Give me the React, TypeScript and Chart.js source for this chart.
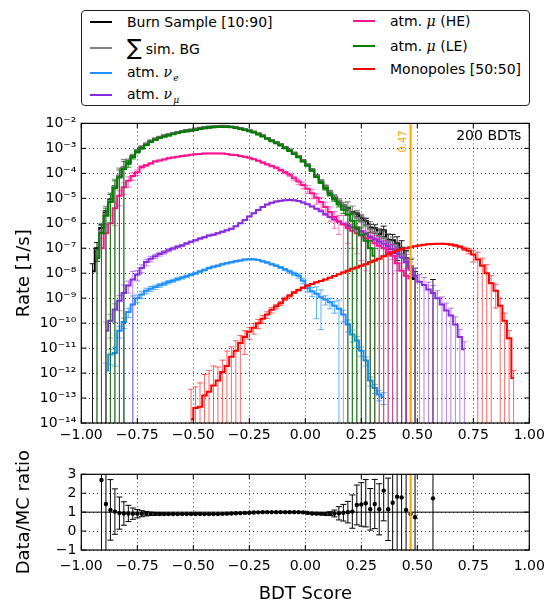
import React, { useEffect, useRef } from "react";
import { Chart, registerables } from "chart.js";

Chart.register(...registerables);

const FONT = '"DejaVu Sans", sans-serif';
Chart.defaults.font.family = FONT;
Chart.defaults.color = "#000";

// ---------------- axes / annotations ----------------
const X_MIN = -1;
const X_MAX = 1;
const BIN_WIDTH = 0.02;
const xTicks = [-1, -0.75, -0.5, -0.25, 0, 0.25, 0.5, 0.75, 1];
const rateTickExponents = [-14, -13, -12, -11, -10, -9, -8, -7, -6, -5, -4, -3, -2];
const RATE_MIN = 1e-14;
const RATE_MAX = 1e-2;
const ratioTicks = [-1, 0, 1, 2, 3];
const RATIO_MIN = -1;
const RATIO_MAX = 3;
const cutValue = 0.47;
const cutLabel = "0.47";
const bdtLabel = "200 BDTs";

// ---------------- data (rates in 1/s, bin centers start at *FirstBin, step 0.02) ----------------
const burnFirstBin = -0.95;
const burnRate = [
  1.2e-8, 1.0e-7, 6.5e-7, 2.7e-6, 8.5e-6, 2.9e-5, 7.7e-5, 1.65e-4, 2.75e-4, 4.8e-4,
  7.6e-4, 1.08e-3, 1.43e-3, 1.87e-3, 2.28e-3, 2.65e-3, 3.03e-3, 3.33e-3, 3.72e-3, 4.1e-3,
  4.5e-3, 4.88e-3, 5.18e-3, 5.57e-3, 6.03e-3, 6.4e-3, 6.78e-3, 6.96e-3, 7.2e-3, 7.38e-3,
  7.34e-3, 7.1e-3, 6.8e-3, 6.3e-3, 5.7e-3, 5.25e-3, 4.65e-3, 3.9e-3, 3.27e-3, 2.63e-3,
  2.15e-3, 1.77e-3, 1.44e-3, 1.11e-3, 8.8e-4, 6.6e-4, 4.9e-4, 3.3e-4, 2.2e-4, 1.4e-4,
  7.9e-5, 4.7e-5, 2.8e-5, 1.7e-5, 1.1e-5, 7.6e-6, 5.2e-6, 3.8e-6, 2.6e-6, 2.3e-6,
  1.6e-6, 1.2e-6, 6.7e-7, 6.3e-7, 3.6e-7, 5.3e-7, 2.2e-7, 2.1e-7, 1.6e-7, 1.0e-7,
  4.0e-8, 1.8e-8, 5.8e-9, null, null, null, 2.8e-9,
];
const burnRelErr = [
  1.0, 0.7, 0.35, 0.2, 0.12, 0.07, 0.05, 0.04, 0.03, 0.025,
  0.02, 0.015, 0.012, 0.01, 0.01, 0.01, 0.01, 0.01, 0.01, 0.01,
  0.01, 0.01, 0.01, 0.01, 0.01, 0.01, 0.01, 0.01, 0.01, 0.01,
  0.01, 0.01, 0.01, 0.01, 0.01, 0.01, 0.01, 0.01, 0.01, 0.01,
  0.01, 0.01, 0.01, 0.01, 0.01, 0.01, 0.01, 0.012, 0.015, 0.02,
  0.025, 0.03, 0.04, 0.05, 0.06, 0.08, 0.1, 0.12, 0.15, 0.2,
  0.22, 0.28, 0.35, 0.4, 0.5, 0.45, 0.6, 0.7, 0.8, 1.0,
  1.0, 1.0, 1.0, null, null, null, 1.0,
];

const simBgFirstBin = -0.93;
const simBgRate = [
  4.5e-8, 5.0e-7, 2.4e-6, 8.1e-6, 2.9e-5, 8.1e-5, 1.8e-4, 3.0e-4, 5.2e-4, 8.3e-4,
  1.18e-3, 1.56e-3, 2.05e-3, 2.5e-3, 2.93e-3, 3.36e-3, 3.7e-3, 4.13e-3, 4.56e-3, 5.0e-3,
  5.42e-3, 5.75e-3, 6.2e-3, 6.7e-3, 7.12e-3, 7.53e-3, 7.73e-3, 7.93e-3, 8.02e-3, 7.89e-3,
  7.56e-3, 7.14e-3, 6.6e-3, 5.86e-3, 5.32e-3, 4.67e-3, 3.92e-3, 3.27e-3, 2.63e-3, 2.15e-3,
  1.77e-3, 1.44e-3, 1.11e-3, 8.8e-4, 6.6e-4, 4.9e-4, 3.3e-4, 2.3e-4, 1.47e-4, 8.5e-5,
  5.2e-5, 3.1e-5, 1.86e-5, 1.21e-5, 7.95e-6, 5.3e-6, 3.6e-6, 2.45e-6, 1.65e-6, 1.15e-6,
  8.2e-7, 5.8e-7, 4.4e-7, 3.1e-7, 2.5e-7, 1.9e-7, 1.4e-7, 8.8e-8, 5.6e-8, 3.6e-8,
  2.0e-8, 7.9e-9,
];
const simBgRelErr = [
  1.0, 1.0, 1.0, 1.0, 1.0, 1.0, 1.0, 0.25, 0.12, 0.08,
  0.06, 0.04, 0.03, 0.025, 0.02, 0.02, 0.015, 0.015, 0.015, 0.015,
  0.015, 0.015, 0.015, 0.015, 0.015, 0.015, 0.015, 0.015, 0.015, 0.015,
  0.015, 0.015, 0.015, 0.015, 0.015, 0.015, 0.015, 0.015, 0.015, 0.015,
  0.015, 0.015, 0.02, 0.02, 0.02, 0.025, 0.03, 0.035, 0.04, 0.05,
  0.07, 0.1, 0.12, 0.15, 0.2, 0.3, 1.0, 1.0, 1.0, 1.0,
  1.0, 1.0, 1.0, 1.0, 1.0, 1.0, 1.0, 1.0, 1.0, 1.0,
  1.0, 1.0,
];

const nueFirstBin = -0.89;
const nueRate = [
  1.26e-12, 5.6e-12, 6.3e-12, 5.0e-11, 1.1e-10, 2.8e-10, 5.6e-10, 1.0e-9, 1.4e-9, 2.0e-9,
  2.4e-9, 2.8e-9, 3.3e-9, 3.8e-9, 4.4e-9, 5.0e-9, 5.8e-9, 6.6e-9, 7.6e-9, 8.7e-9,
  1.0e-8, 1.17e-8, 1.35e-8, 1.6e-8, 1.8e-8, 2.0e-8, 2.3e-8, 2.5e-8, 2.75e-8, 3.0e-8,
  3.2e-8, 3.5e-8, 3.6e-8, 3.6e-8, 3.4e-8, 3.0e-8, 2.7e-8, 2.3e-8, 2.0e-8, 1.7e-8,
  1.4e-8, 1.17e-8, 9.5e-9, 7.9e-9, 5.0e-9, 2.5e-9, 1.9e-9, 1.5e-9, 1.1e-9, 8.9e-10,
  6.8e-10, 5.0e-10, 3.8e-10, 2.2e-10, 8.9e-11, 3.5e-11, 2.0e-11, 7.9e-12, 3.2e-12, 5.0e-13,
  2.5e-13, 1.4e-13, 1.1e-13,
];
const nueRelErr = [
  1.0, 0.6, 0.7, 0.5, 0.45, 0.4, 1.2, 0.35, 0.3, 0.25,
  0.22, 0.2, 0.18, 0.16, 0.15, 0.14, 0.13, 0.12, 0.11, 0.1,
  0.1, 0.09, 0.09, 0.08, 0.08, 0.07, 0.07, 0.06, 0.06, 0.06,
  0.05, 0.05, 0.05, 0.05, 0.05, 0.06, 0.06, 0.07, 0.08, 0.09,
  0.1, 0.12, 0.15, 0.2, 0.25, 0.3, 0.4, 0.9, 0.95, 0.4,
  0.45, 0.5, 1.2, 0.5, 0.5, 0.5, 0.45, 0.4, 0.4, 0.4,
  0.4, 0.45, 0.5,
];

const numuFirstBin = -0.89;
const numuRate = [
  5.0e-11, 1.26e-10, 3.5e-10, 7.9e-10, 1.6e-9, 3.2e-9, 5.6e-9, 8.9e-9, 1.6e-8, 2.8e-8,
  3.8e-8, 4.8e-8, 5.9e-8, 6.9e-8, 8.3e-8, 9.8e-8, 1.15e-7, 1.3e-7, 1.55e-7, 1.8e-7,
  2.1e-7, 2.45e-7, 2.75e-7, 3.2e-7, 3.5e-7, 4.0e-7, 4.6e-7, 5.2e-7, 6.0e-7, 7.6e-7,
  1.0e-6, 1.35e-6, 1.86e-6, 2.5e-6, 3.4e-6, 4.5e-6, 5.6e-6, 6.6e-6, 7.4e-6, 7.9e-6,
  8.3e-6, 8.5e-6, 8.3e-6, 7.8e-6, 6.8e-6, 5.8e-6, 4.7e-6, 3.8e-6, 3.0e-6, 2.3e-6,
  1.8e-6, 1.4e-6, 1.15e-6, 9.5e-7, 8.1e-7, 6.9e-7, 5.9e-7, 4.8e-7, 3.7e-7, 2.8e-7,
  2.3e-7, 1.86e-7, 1.5e-7, 1.2e-7, 8.9e-8, 6.3e-8, 4.3e-8, 2.8e-8, 1.4e-8, 7.9e-9,
  4.5e-9, 3.4e-9, 2.2e-9, 1.6e-9, 1.0e-9, 5.6e-10, 3.2e-10, 2.0e-10, 8.9e-11, 2.8e-11,
  8.9e-12,
];
const numuRelErr = [
  1.2, 0.8, 0.7, 0.6, 1.1, 0.5, 1.1, 0.45, 0.35, 0.3,
  0.25, 0.2, 0.18, 0.16, 0.14, 0.12, 0.1, 0.09, 0.08, 0.07,
  0.06, 0.06, 0.05, 0.05, 0.05, 0.04, 0.04, 0.04, 0.04, 0.03,
  0.03, 0.03, 0.03, 0.03, 0.03, 0.03, 0.03, 0.03, 0.03, 0.03,
  0.03, 0.03, 0.03, 0.03, 0.03, 0.03, 0.03, 0.03, 0.03, 0.03,
  0.03, 0.03, 0.04, 0.04, 0.05, 0.06, 0.07, 0.08, 0.1, 0.12,
  0.15, 0.2, 0.3, 0.4, 0.6, 0.8, 1.0, 1.0, 1.0, 1.0,
  1.0, 1.0, 1.0, 1.0, 1.0, 1.0, 1.0, 1.0, 1.0, 1.0,
  1.0,
];

const muHeFirstBin = -0.91;
const muHeRate = [
  1.0e-7, 4.0e-7, 1.0e-6, 4.0e-6, 1.26e-5, 2.8e-5, 5.0e-5, 7.9e-5, 1.1e-4, 1.8e-4,
  2.1e-4, 2.5e-4, 3.0e-4, 3.3e-4, 3.6e-4, 4.0e-4, 4.3e-4, 4.6e-4, 5.0e-4, 5.2e-4,
  5.5e-4, 5.8e-4, 6.0e-4, 6.2e-4, 6.3e-4, 6.3e-4, 6.3e-4, 6.2e-4, 5.9e-4, 5.6e-4,
  5.4e-4, 5.0e-4, 4.6e-4, 4.2e-4, 3.7e-4, 3.2e-4, 2.7e-4, 2.3e-4, 1.95e-4, 1.66e-4,
  1.35e-4, 1.1e-4, 8.7e-5, 6.3e-5, 4.7e-5, 3.4e-5, 2.4e-5, 1.6e-5, 1.05e-5, 7.1e-6,
  4.5e-6, 2.8e-6, 1.8e-6, 1.2e-6, 8.9e-7, 6.3e-7, 5.0e-7, 4.0e-7, 3.2e-7, 2.5e-7,
  2.0e-7, 1.6e-7, 1.26e-7, 1.0e-7, 7.1e-8, 5.0e-8, 2.5e-8, 1.26e-8, 7.9e-9, 6.3e-9,
];
const muHeRelErr = [
  1.5, 1.2, 1.0, 0.8, 0.6, 0.5, 0.45, 0.35, 0.25, 0.15,
  0.1, 0.07, 0.05, 0.04, 0.03, 0.03, 0.03, 0.03, 0.03, 0.03,
  0.03, 0.03, 0.03, 0.03, 0.03, 0.03, 0.03, 0.03, 0.03, 0.03,
  0.03, 0.03, 0.03, 0.03, 0.035, 0.04, 0.05, 0.06, 0.07, 0.08,
  0.1, 0.12, 0.15, 0.2, 0.25, 0.3, 0.35, 0.4, 0.45, 0.5,
  0.55, 0.6, 0.65, 0.7, 1.3, 0.75, 0.8, 0.85, 0.9, 0.95,
  1.0, 1.0, 1.0, 1.0, 1.0, 1.0, 1.0, 1.0, 1.0, 1.0,
];

const muLeFirstBin = -0.93;
const muLeRate = [
  4.0e-8, 4.0e-7, 2.0e-6, 7.1e-6, 2.5e-5, 6.8e-5, 1.5e-4, 2.5e-4, 4.4e-4, 7.2e-4,
  1.0e-3, 1.35e-3, 1.8e-3, 2.2e-3, 2.6e-3, 3.0e-3, 3.3e-3, 3.7e-3, 4.1e-3, 4.5e-3,
  4.9e-3, 5.2e-3, 5.6e-3, 6.1e-3, 6.5e-3, 6.9e-3, 7.1e-3, 7.3e-3, 7.4e-3, 7.3e-3,
  7.0e-3, 6.6e-3, 6.1e-3, 5.4e-3, 4.9e-3, 4.3e-3, 3.6e-3, 3.0e-3, 2.4e-3, 1.95e-3,
  1.6e-3, 1.3e-3, 1.0e-3, 7.9e-4, 6.0e-4, 4.4e-4, 3.0e-4, 2.0e-4, 1.26e-4, 7.1e-5,
  4.2e-5, 2.4e-5, 1.4e-5, 8.9e-6, 5.6e-6, 3.5e-6, 2.2e-6, 1.26e-6, 6.6e-7, 3.5e-7,
  2.0e-7, 1.0e-7, 5.0e-8,
];
const muLeRelErr = [
  1.2, 1.0, 1.0, 1.0, 1.0, 1.0, 1.0, 0.3, 0.15, 0.1,
  0.07, 0.05, 0.04, 0.03, 0.025, 0.02, 0.02, 0.015, 0.015, 0.015,
  0.015, 0.015, 0.015, 0.015, 0.015, 0.015, 0.015, 0.015, 0.015, 0.015,
  0.015, 0.015, 0.015, 0.015, 0.015, 0.015, 0.015, 0.015, 0.015, 0.015,
  0.015, 0.015, 0.02, 0.02, 0.02, 0.025, 0.03, 0.035, 0.04, 0.05,
  0.07, 0.1, 0.12, 0.15, 0.2, 0.3, 1.0, 1.0, 1.0, 1.0,
  1.0, 1.0, 1.0,
];

const monopoleFirstBin = -0.51;
const monopoleRate = [
  1.4e-14, 4.0e-14, 4.5e-14, 1.26e-13, 1.8e-13, 3.2e-13, 5.0e-13, 1.1e-12, 1.9e-12, 4.5e-12,
  7.9e-12, 1.6e-11, 2.8e-11, 4.5e-11, 6.6e-11, 1.0e-10, 1.5e-10, 2.2e-10, 3.4e-10, 4.7e-10,
  6.3e-10, 9.5e-10, 1.26e-9, 1.7e-9, 2.1e-9, 2.6e-9, 3.2e-9, 3.7e-9, 4.3e-9, 4.9e-9,
  5.6e-9, 6.6e-9, 7.8e-9, 9.1e-9, 1.07e-8, 1.26e-8, 1.5e-8, 1.7e-8, 2.0e-8, 2.3e-8,
  2.75e-8, 3.2e-8, 3.8e-8, 4.8e-8, 5.8e-8, 6.8e-8, 7.9e-8, 9.1e-8, 1.0e-7, 1.1e-7,
  1.2e-7, 1.3e-7, 1.38e-7, 1.45e-7, 1.48e-7, 1.5e-7, 1.5e-7, 1.48e-7, 1.4e-7, 1.3e-7,
  1.15e-7, 9.5e-8, 7.9e-8, 5.6e-8, 3.5e-8, 2.0e-8, 1.0e-8, 4.0e-9, 2.0e-9, 5.0e-10,
  1.26e-10, 2.5e-11, 6.3e-13,
];
const monopoleRelErr = [
  15, 6, 8, 6, 6, 5, 2.5, 2, 3, 1.5,
  1.5, 1.0, 0.8, 0.5, 0.45, 0.4, 0.35, 0.3, 0.25, 0.2,
  0.18, 0.15, 0.12, 0.1, 0.09, 0.08, 0.07, 0.06, 0.05, 0.05,
  0.04, 0.04, 0.04, 0.03, 0.03, 0.03, 0.03, 0.03, 0.03, 0.03,
  0.03, 0.03, 0.03, 0.03, 0.03, 0.03, 0.03, 0.03, 0.03, 0.03,
  0.03, 0.03, 0.03, 0.03, 0.03, 0.03, 0.04, 0.05, 0.07, 0.08,
  0.1, 0.15, 0.25, 0.5, 1.0, 1.0, 1.2, 1.0, 0.8, 1.0,
  1.0, 1.0, 1.0,
];

const ratioFirstBin = -0.91;
const ratioValue = [
  2.7, 1.43, 1.12, 1.03, 0.95, 0.93, 0.93, 0.92, 0.92, 0.92,
  0.92, 0.91, 0.91, 0.9, 0.9, 0.9, 0.9, 0.9, 0.9, 0.9,
  0.9, 0.9, 0.9, 0.9, 0.9, 0.9, 0.9, 0.91, 0.92, 0.93,
  0.94, 0.95, 0.96, 0.97, 0.98, 0.99, 1.0, 1.0, 1.0, 1.0,
  1.0, 1.0, 1.0, 1.0, 1.0, 0.99, 0.96, 0.93, 0.92, 0.91,
  0.9, 0.92, 0.93, 0.94, 0.97, 1.0, 1.03, 1.38, 1.41, 1.47,
  1.15, 1.43, 1.15, 2.14, 1.15, 1.5, 1.82, 1.78, 1.12, 0.9,
  0.73, null, null, null, 1.73,
];
const ratioErr = [
  4.0, 3.0, 1.6, 1.2, 0.85, 0.62, 0.43, 0.3, 0.22, 0.16,
  0.12, 0.09, 0.07, 0.05, 0.04, 0.03, 0.025, 0.02, 0.02, 0.02,
  0.015, 0.015, 0.015, 0.015, 0.015, 0.015, 0.015, 0.015, 0.015, 0.015,
  0.015, 0.015, 0.015, 0.015, 0.015, 0.015, 0.015, 0.015, 0.015, 0.015,
  0.015, 0.015, 0.015, 0.015, 0.015, 0.02, 0.02, 0.025, 0.03, 0.04,
  0.06, 0.1, 0.18, 0.35, 0.44, 0.57, 0.88, 1.05, 1.15, 1.25,
  1.1, 1.3, 1.35, 1.6, 1.65, 2.5, 3.0, 3.0, 3.0, 3.0,
  3.0, null, null, null, 5.0,
];

// ---------------- colours ----------------
const COLORS = {
  burn: "#000000",
  simBg: "#808080",
  nue: "#1e90ff",
  numu: "#8a2be2",
  muHe: "#ff1493",
  muLe: "#008000",
  monopole: "#ff0000",
  cut: "#ffa500",
};

// ---------------- helpers ----------------
const toPoints = (first: number, values: (number | null)[]) =>
  values.map((v, i) => ({ x: Math.round((first + i * BIN_WIDTH) * 1000) / 1000, y: v }));

const SUP: Record<string, string> = {
  "-": "\u207B", "0": "\u2070", "1": "\u00B9", "2": "\u00B2", "3": "\u00B3",
  "4": "\u2074", "5": "\u2075", "6": "\u2076", "7": "\u2077", "8": "\u2078", "9": "\u2079",
};
const sup = (n: number) => String(n).split("").map((c) => SUP[c] ?? c).join("");
const fmtSigned = (v: number, digits: number) =>
  (v < 0 ? "\u2212" : "") + Math.abs(v).toFixed(digits);

const errorBarPlugin = {
  id: "errorBars",
  afterDatasetDraw(chart: any, args: any) {
    const ds = chart.data.datasets[args.index];
    const errs = ds.errors;
    if (!errs) return;
    const xs = chart.scales.x;
    const ys = chart.scales.y;
    const a = chart.chartArea;
    const ctx = chart.ctx;
    const cap = ds.capHalf ?? 3;
    ctx.save();
    ctx.beginPath();
    ctx.rect(a.left, a.top, a.right - a.left, a.bottom - a.top);
    ctx.clip();
    ctx.strokeStyle = ds.errorColor;
    ctx.lineWidth = ds.errorWidth ?? 1;
    ds.data.forEach((p: any, i: number) => {
      const e = errs[i];
      if (p.y == null || e == null) return;
      let hi: number;
      let lo: number;
      if (ds.relativeErrors) {
        hi = p.y * (1 + e);
        lo = p.y * (1 - e);
      } else {
        hi = p.y + e;
        lo = p.y - e;
      }
      const loValid = ds.relativeErrors ? lo > 0 : true;
      const px = xs.getPixelForValue(p.x);
      const pyHi = ys.getPixelForValue(hi);
      const pyLo = loValid ? ys.getPixelForValue(lo) : a.bottom + 2;
      ctx.beginPath();
      ctx.moveTo(px, pyLo);
      ctx.lineTo(px, pyHi);
      ctx.moveTo(px - cap, pyHi);
      ctx.lineTo(px + cap, pyHi);
      if (loValid) {
        ctx.moveTo(px - cap, pyLo);
        ctx.lineTo(px + cap, pyLo);
      }
      ctx.stroke();
    });
    ctx.restore();
  },
};

const framePlugin = {
  id: "frame",
  afterDraw(chart: any) {
    const a = chart.chartArea;
    const ctx = chart.ctx;
    const xs = chart.scales.x;
    const ys = chart.scales.y;
    ctx.save();
    ctx.strokeStyle = "#000";
    ctx.lineWidth = 1;
    ctx.beginPath();
    xs.ticks.forEach((t: any) => {
      const px = xs.getPixelForValue(t.value);
      ctx.moveTo(px, a.bottom);
      ctx.lineTo(px, a.bottom - 5);
      ctx.moveTo(px, a.top);
      ctx.lineTo(px, a.top + 5);
    });
    ys.ticks.forEach((t: any) => {
      const py = ys.getPixelForValue(t.value);
      ctx.moveTo(a.left, py);
      ctx.lineTo(a.left + 5, py);
      ctx.moveTo(a.right, py);
      ctx.lineTo(a.right - 5, py);
    });
    ctx.stroke();
    ctx.lineWidth = 1.2;
    ctx.strokeRect(a.left, a.top, a.right - a.left, a.bottom - a.top);
    ctx.restore();
  },
};

const cutLinePlugin = {
  id: "cutLine",
  afterDatasetsDraw(chart: any) {
    const a = chart.chartArea;
    const ctx = chart.ctx;
    const px = chart.scales.x.getPixelForValue(cutValue);
    ctx.save();
    ctx.strokeStyle = COLORS.cut;
    ctx.lineWidth = 2;
    ctx.beginPath();
    ctx.moveTo(px, a.top);
    ctx.lineTo(px, a.bottom);
    ctx.stroke();
    ctx.restore();
  },
};

const mainTextPlugin = {
  id: "mainText",
  afterDatasetsDraw(chart: any) {
    const a = chart.chartArea;
    const ctx = chart.ctx;
    const px = chart.scales.x.getPixelForValue(cutValue);
    ctx.save();
    ctx.fillStyle = "#000";
    ctx.font = `14px ${FONT}`;
    ctx.textAlign = "right";
    ctx.textBaseline = "middle";
    ctx.fillText(bdtLabel, a.right - 8, a.top + 13);
    ctx.translate(px - 7, a.top + 18);
    ctx.rotate(-Math.PI / 2);
    ctx.fillStyle = COLORS.cut;
    ctx.font = `10px ${FONT}`;
    ctx.textAlign = "center";
    ctx.textBaseline = "middle";
    ctx.fillText(cutLabel, 0, 0);
    ctx.restore();
  },
};

const unityLinePlugin = {
  id: "unityLine",
  beforeDatasetsDraw(chart: any) {
    const a = chart.chartArea;
    const ctx = chart.ctx;
    const py = chart.scales.y.getPixelForValue(1);
    ctx.save();
    ctx.strokeStyle = "#000";
    ctx.lineWidth = 1;
    ctx.beginPath();
    ctx.moveTo(a.left, py);
    ctx.lineTo(a.right, py);
    ctx.stroke();
    ctx.restore();
  },
};

const gridCfg = { color: "rgba(0,0,0,0.8)", lineWidth: 1, drawTicks: false };
const borderCfg = { display: false, dash: [1, 3] };

function stepDataset(label: string, color: string, errColor: string, first: number, values: (number | null)[], errs: (number | null)[]) {
  return {
    label,
    data: toPoints(first, values),
    errors: errs,
    relativeErrors: true,
    errorColor: errColor,
    borderColor: color,
    borderWidth: 2,
    pointRadius: 0,
    stepped: "middle",
    spanGaps: false,
    fill: false,
  } as any;
}

function mainConfig(): any {
  return {
    type: "line",
    data: {
      datasets: [
        stepDataset("Monopoles [50:50]", COLORS.monopole, "rgba(255,0,0,0.6)", monopoleFirstBin, monopoleRate, monopoleRelErr),
        stepDataset("atm. mu (LE)", COLORS.muLe, "rgba(0,128,0,0.85)", muLeFirstBin, muLeRate, muLeRelErr),
        stepDataset("atm. mu (HE)", COLORS.muHe, "rgba(255,20,147,0.55)", muHeFirstBin, muHeRate, muHeRelErr),
        stepDataset("atm. nu_mu", COLORS.numu, "rgba(138,43,226,0.6)", numuFirstBin, numuRate, numuRelErr),
        stepDataset("atm. nu_e", COLORS.nue, "rgba(30,144,255,0.7)", nueFirstBin, nueRate, nueRelErr),
        stepDataset("sum sim. BG", COLORS.simBg, "rgba(100,100,100,0.85)", simBgFirstBin, simBgRate, simBgRelErr),
        stepDataset("Burn Sample [10:90]", COLORS.burn, "rgba(0,0,0,0.9)", burnFirstBin, burnRate, burnRelErr),
      ],
    },
    options: {
      responsive: false,
      animation: false,
      events: [],
      layout: { padding: { top: 9, right: 24.7, bottom: 0, left: 0 } },
      plugins: { legend: { display: false }, tooltip: { enabled: false } },
      scales: {
        x: {
          type: "linear",
          min: X_MIN,
          max: X_MAX,
          afterBuildTicks: (s: any) => { s.ticks = xTicks.map((v) => ({ value: v })); },
          afterFit: (s: any) => { s.height = 22; },
          ticks: { callback: (v: any) => fmtSigned(Number(v), 2), font: { size: 14, family: FONT }, color: "#000", padding: 4, maxRotation: 0, autoSkip: false },
          grid: gridCfg,
          border: borderCfg,
        },
        y: {
          type: "logarithmic",
          min: RATE_MIN,
          max: RATE_MAX,
          afterBuildTicks: (s: any) => { s.ticks = rateTickExponents.map((e) => ({ value: Math.pow(10, e) })); },
          afterFit: (s: any) => { s.width = 81.3; },
          ticks: { callback: (v: any) => "10" + sup(Math.round(Math.log10(Number(v)))), font: { size: 14, family: FONT }, color: "#000", padding: 5, autoSkip: false },
          title: { display: true, text: "Rate [1/s]", font: { size: 18, family: FONT }, color: "#000", padding: { top: 14, bottom: 0 } },
          grid: gridCfg,
          border: borderCfg,
        },
      },
    },
    plugins: [errorBarPlugin, cutLinePlugin, mainTextPlugin, framePlugin],
  };
}

function ratioConfig(): any {
  return {
    type: "scatter",
    data: {
      datasets: [
        {
          label: "Data/MC ratio",
          data: toPoints(ratioFirstBin, ratioValue),
          errors: ratioErr,
          relativeErrors: false,
          errorColor: "#000",
          capHalf: 3,
          pointRadius: 2.2,
          pointBackgroundColor: "#000",
          pointBorderWidth: 0,
          showLine: false,
        },
      ],
    },
    options: {
      responsive: false,
      animation: false,
      events: [],
      layout: { padding: { top: 29.3, right: 24.7, bottom: 0, left: 0 } },
      plugins: { legend: { display: false }, tooltip: { enabled: false } },
      scales: {
        x: {
          type: "linear",
          min: X_MIN,
          max: X_MAX,
          afterBuildTicks: (s: any) => { s.ticks = xTicks.map((v) => ({ value: v })); },
          afterFit: (s: any) => { s.height = 55; },
          ticks: { callback: (v: any) => fmtSigned(Number(v), 2), font: { size: 14, family: FONT }, color: "#000", padding: 8, maxRotation: 0, autoSkip: false },
          title: { display: true, text: "BDT Score", font: { size: 18, family: FONT }, color: "#000", padding: { top: 0, bottom: 0 } },
          grid: gridCfg,
          border: borderCfg,
        },
        y: {
          type: "linear",
          min: RATIO_MIN,
          max: RATIO_MAX,
          afterBuildTicks: (s: any) => { s.ticks = ratioTicks.map((v) => ({ value: v })); },
          afterFit: (s: any) => { s.width = 81.3; },
          ticks: { callback: (v: any) => fmtSigned(Number(v), 0), font: { size: 14, family: FONT }, color: "#000", padding: 5, autoSkip: false },
          title: { display: true, text: "Data/MC ratio", font: { size: 18, family: FONT }, color: "#000", padding: { top: 14, bottom: 0 } },
          grid: gridCfg,
          border: borderCfg,
        },
      },
    },
    plugins: [unityLinePlugin, errorBarPlugin, cutLinePlugin, framePlugin],
  };
}

// ---------------- legend ----------------
const mathStyle: React.CSSProperties = { fontFamily: '"DejaVu Serif", serif', fontStyle: "italic" };
const subStyle: React.CSSProperties = { fontFamily: '"DejaVu Serif", serif', fontStyle: "italic", fontSize: 9, position: "relative", top: 4, marginLeft: 1 };

const legendItems = [
  { color: COLORS.burn, left: 90, top: 22, label: <span>Burn Sample [10:90]</span> },
  {
    color: COLORS.simBg, left: 90, top: 47.5,
    label: (
      <span>
        <span style={{ fontSize: 22, position: "relative", top: 1, marginRight: 4 }}>{"\u2211"}</span>sim. BG
      </span>
    ),
  },
  { color: COLORS.nue, left: 90, top: 72.5, label: <span>atm. <span style={mathStyle}>{"\u03BD"}</span><span style={subStyle}>e</span></span> },
  { color: COLORS.numu, left: 90, top: 94.5, label: <span>atm. <span style={mathStyle}>{"\u03BD"}</span><span style={subStyle}>{"\u03BC"}</span></span> },
  { color: COLORS.muHe, left: 353, top: 20.5, label: <span>atm. <span style={mathStyle}>{"\u03BC"}</span> (HE)</span> },
  { color: COLORS.muLe, left: 353, top: 45.5, label: <span>atm. <span style={mathStyle}>{"\u03BC"}</span> (LE)</span> },
  { color: COLORS.monopole, left: 353, top: 68.5, label: <span>Monopoles [50:50]</span> },
];

function Legend() {
  return (
    <>
      <div
        style={{
          position: "absolute", left: 81, top: 10, width: 447, height: 94,
          border: "1px solid #222", borderRadius: 4, background: "#fff", boxSizing: "content-box",
        }}
      />
      {legendItems.map((it, i) => (
        <div
          key={i}
          style={{
            position: "absolute", left: it.left, top: it.top, transform: "translateY(-50%)",
            display: "flex", alignItems: "center", whiteSpace: "nowrap",
            fontFamily: FONT, fontSize: 14, color: "#000", lineHeight: "18px",
          }}
        >
          <span style={{ display: "inline-block", width: 22, height: 2, background: it.color, marginRight: 15 }} />
          {it.label}
        </div>
      ))}
    </>
  );
}

export default function App() {
  const mainRef = useRef<HTMLCanvasElement>(null);
  const ratioRef = useRef<HTMLCanvasElement>(null);

  useEffect(() => {
    const main = new Chart(mainRef.current as HTMLCanvasElement, mainConfig());
    const ratio = new Chart(ratioRef.current as HTMLCanvasElement, ratioConfig());
    return () => {
      main.destroy();
      ratio.destroy();
    };
  }, []);

  return (
    <div style={{ position: "absolute", left: 0, top: 0, width: 554, height: 605, background: "#fff", overflow: "hidden" }}>
      <Legend />
      <canvas ref={mainRef} width={554} height={335} style={{ position: "absolute", left: 0, top: 110, width: 554, height: 335 }} />
      <canvas ref={ratioRef} width={554} height={160} style={{ position: "absolute", left: 0, top: 445, width: 554, height: 160 }} />
    </div>
  );
}
